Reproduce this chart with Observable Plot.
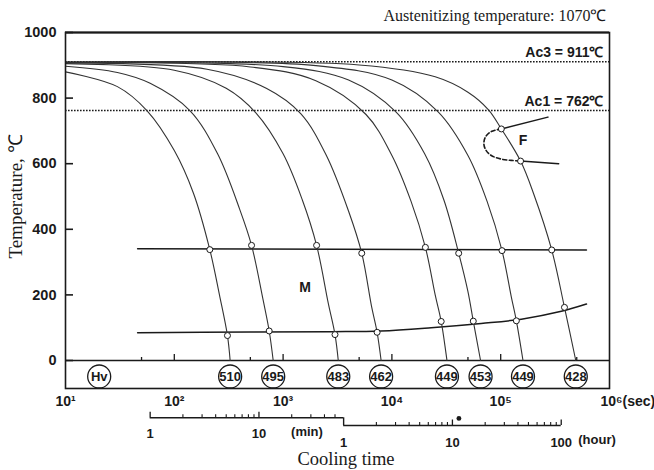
<!DOCTYPE html>
<html><head><meta charset="utf-8">
<script src="https://cdn.jsdelivr.net/npm/d3@7"></script>
<script src="https://cdn.jsdelivr.net/npm/@observablehq/plot@0.6"></script>
<style>body{margin:0;background:#fff} svg{display:block}</style>
</head><body><div id="chart"></div>
<script>
// ---------- data (time in seconds, temperature in °C) ----------
const titleText = "Austenitizing temperature: 1070℃";
const yLabel = "Temperature, ℃";
const xLabel = "Cooling time";
const yTicks = [0, 200, 400, 600, 800, 1000];
const xMajorTicks = [100, 1000, 10000, 100000];
const xMinorTicks = [50, 500, 5000, 50000, 500000];
const xTickValues = [10, 100, 1000, 10000, 100000];
const xTickLabels = ["10¹", "10²", "10³", "10⁴", "10⁵"];
const xLastTick = 1000000;
const xLastLabel = "10⁶(sec)";

const acTemps = [911, 762];
const acLabels = ["Ac3 = 911℃", "Ac1 = 762℃"];

// cooling curves
const c1Time = [10, 30, 56, 100, 150, 212, 260, 308, 326];
const c1Temp = [880, 835, 762, 640, 510, 338, 200, 76, 0];
const c2Time = [10, 30, 60, 139, 250, 400, 513, 650, 745, 811];
const c2Temp = [897, 878, 845, 762, 630, 460, 351, 190, 90, 0];
const c3Time = [10, 100, 300, 562, 1000, 1500, 2032, 2600, 3000, 3214];
const c3Temp = [905, 885, 830, 755, 630, 490, 351, 175, 79, 0];
const c4Time = [10, 200, 700, 1459, 2500, 4000, 5284, 6500, 7311, 7960];
const c4Temp = [907, 888, 830, 752, 625, 455, 327, 165, 86, 0];
const c5Time = [10, 500, 2000, 5780, 10000, 15000, 20320, 25000, 28380, 32060];
const c5Temp = [908, 895, 853, 750, 625, 485, 345, 200, 119, 0];
const c6Time = [10, 1000, 4000, 10940, 20000, 30000, 41110, 50000, 55960, 65300];
const c6Temp = [909, 896, 855, 757, 630, 490, 327, 210, 120, 0];
const c7Time = [10, 2000, 10000, 26600, 50000, 75000, 102800, 125000, 139300, 160300];
const c7Temp = [909, 899, 855, 758, 625, 485, 335, 195, 121, 0];
const c8Time = [10, 5000, 25000, 50000, 76900, 101400, 152300, 200000, 294400, 385600, 489800];
const c8Temp = [910, 901, 865, 818, 765, 706, 608, 510, 337, 162, 0];

// hardness (Hv) at the end of each curve
const hvLabel = "Hv";
const hvLabelTime = 20.4;
const hvTime = [326, 811, 3214, 7960, 32060, 65300, 160300, 489800];
const hvValues = ["510", "495", "483", "462", "449", "453", "449", "428"];

// Ms (start of martensite) line and points
const msLineTime = [46, 614000];
const msLineTemp = [341, 337];
const msDotTime = [212, 513, 2032, 5284, 20320, 41110, 102800, 294400];
const msDotTemp = [338, 351, 351, 327, 345, 327, 335, 337];

// Mf (finish) line and points
const mfLineTime = [46, 506, 2754, 7940, 22960, 66200, 155000, 361000, 614000];
const mfLineTemp = [84.5, 87, 88, 90, 100, 113, 126, 150, 172];
const mfDotTime = [308, 745, 3000, 7311, 28380, 55960, 139300, 385600];
const mfDotTemp = [76, 90, 79, 86, 119, 120, 121, 162];

// ferrite region
const fStartTime = [101400, 271600];
const fStartTemp = [706, 742];
const fEndTime = [152300, 341000];
const fEndTemp = [608, 600];
const fNoseTime = [101400, 81900, 72100, 70100, 73600, 81900, 101400, 125300, 152300];
const fNoseTemp = [706, 698, 680, 659, 640, 625, 614, 610, 608];
const fDotTime = [101400, 152300];
const fDotTemp = [706, 608];

const regionLabels = ["M", "F"];
const regionTime = [1596, 160000];
const regionTemp = [222, 670];

// secondary time scale
const minMajor = [1, 10];
const minMinor = [2, 3, 4, 5, 6, 7, 8, 9, 20, 30, 40, 50];
const hourMajor = [10, 100];
const hourMinor = [2, 3, 4, 5, 6, 7, 8, 9, 20, 30, 40, 50, 60, 70, 80, 90];
const minLabels = ["1", "10"];
const hourLabels = ["1", "10", "100"];
const hourLabelValues = [1, 10, 100];
const blobTime = [41300];

// ---------- layout constants (temperature units of the y scale) ----------
const HV_ROW = -48.8, MIN_LINE = -174.7, HOUR_LINE = -198.2;
const MIN_LABEL = -222.6, HOUR_LABEL = -251.5, XLABEL_ROW = -301;

const curves = [[c1Time,c1Temp],[c2Time,c2Temp],[c3Time,c3Temp],[c4Time,c4Temp],
                [c5Time,c5Temp],[c6Time,c6Temp],[c7Time,c7Temp],[c8Time,c8Temp]];
const curveRows = curves.flatMap(([ts, Ts], id) => ts.map((t, i) => ({id, t, T: Ts[i]})));
const zip = (a, b) => a.map((t, i) => ({t, T: b[i]}));

const sans = "Liberation Sans, Arial, sans-serif";
const narrow = "Liberation Sans Narrow, Liberation Sans, Arial, sans-serif";
const serif = "Liberation Serif, Times New Roman, serif";
const ink = "#1a1a1a";

const chart = Plot.plot({
  width: 654, height: 470,
  marginLeft: 65, marginRight: 45, marginTop: 32, marginBottom: 82,
  x: {type: "log", domain: [10, 1e6], axis: null},
  y: {domain: [-85.4, 1000], axis: null},
  style: {background: "white", overflow: "visible"},
  marks: [
    // title & axis titles
    Plot.text([titleText], {x: 1e6, y: 1000, text: d => d, textAnchor: "end", dx: -3, dy: -17, fontFamily: serif, fontSize: 16, fill: ink}),
    Plot.text([yLabel], {x: 10, y: 500, text: d => d, rotate: -90, dx: -50, fontFamily: serif, fontSize: 19, fill: ink}),
    Plot.text([xLabel], {x: 3784, y: XLABEL_ROW, text: d => d, fontFamily: serif, fontSize: 18.5, fill: ink}),

    // Ac lines
    Plot.ruleY(acTemps, {y: d => d, stroke: ink, strokeWidth: 1.4, strokeDasharray: "1.6,1.4"}),
    Plot.text(acTemps, {x: 1e6, y: d => d, text: (d, i) => acLabels[i], textAnchor: "end", dx: -6, dy: -9, fontFamily: sans, fontWeight: "bold", fontSize: 14, fill: ink}),

    // y ticks and labels
    Plot.ruleY(yTicks, {y: d => d, x1: 10, x2: 10, insetRight: -8, stroke: ink, strokeWidth: 1.6}),
    Plot.text(yTicks, {x: 10, y: d => d, text: d => String(d), textAnchor: "end", dx: -9, fontFamily: sans, fontWeight: "bold", fontSize: 14.5, fill: ink}),

    // zero line and x ticks on it
    Plot.ruleY([0], {stroke: ink, strokeWidth: 1.5}),
    Plot.ruleX(xMajorTicks, {x: d => d, y1: 0, y2: 0, insetTop: -6, stroke: ink, strokeWidth: 1.3}),
    Plot.ruleX(xMinorTicks, {x: d => d, y1: 0, y2: 0, insetTop: -3, stroke: ink, strokeWidth: 1.3}),
    Plot.text(xTickValues, {x: d => d, y: -85.4, text: (d, i) => xTickLabels[i], dy: 13, fontFamily: sans, fontWeight: "bold", fontSize: 14, fill: ink}),
    Plot.text([xLastTick], {x: d => d, y: -85.4, text: () => xLastLabel, textAnchor: "start", dx: -9, dy: 13, fontFamily: sans, fontWeight: "bold", fontSize: 14, fill: ink}),

    // Ms and Mf lines
    Plot.line(zip(msLineTime, msLineTemp), {x: "t", y: "T", stroke: ink, strokeWidth: 1.5}),
    Plot.line(zip(mfLineTime, mfLineTemp), {x: "t", y: "T", stroke: ink, strokeWidth: 1.5, curve: "catmull-rom"}),

    // cooling curves
    Plot.line(curveRows, {x: "t", y: "T", z: "id", stroke: "#333", strokeWidth: 1.1, curve: "catmull-rom"}),

    // ferrite region
    Plot.line(zip(fStartTime, fStartTemp), {x: "t", y: "T", stroke: ink, strokeWidth: 1.5}),
    Plot.line(zip(fEndTime, fEndTemp), {x: "t", y: "T", stroke: ink, strokeWidth: 1.5}),
    Plot.line(zip(fNoseTime, fNoseTemp), {x: "t", y: "T", stroke: ink, strokeWidth: 1.6, strokeDasharray: "4,2.5", curve: "catmull-rom"}),

    // transformation points
    Plot.dot(zip(msDotTime, msDotTemp), {x: "t", y: "T", r: 3, fill: "white", stroke: ink, strokeWidth: 1}),
    Plot.dot(zip(mfDotTime, mfDotTemp), {x: "t", y: "T", r: 3, fill: "white", stroke: ink, strokeWidth: 1}),
    Plot.dot(zip(fDotTime, fDotTemp), {x: "t", y: "T", r: 3, fill: "white", stroke: ink, strokeWidth: 1}),

    // region labels
    Plot.text(regionLabels, {x: (d, i) => regionTime[i], y: (d, i) => regionTemp[i], text: d => d, fontFamily: sans, fontWeight: "bold", fontSize: 14, fill: ink}),

    // hardness circles
    Plot.dot([hvLabelTime, ...hvTime], {x: d => d, y: HV_ROW, r: 11.5, fill: "white", stroke: ink, strokeWidth: 1.3}),
    Plot.text([hvLabel, ...hvValues], {x: (d, i) => [hvLabelTime, ...hvTime][i], y: HV_ROW, text: d => d, fontFamily: narrow, fontWeight: "bold", fontSize: 13, fill: ink}),

    // frame
    Plot.frame({stroke: ink, strokeWidth: 1.6}),
    Plot.ruleY([1000], {stroke: ink, strokeWidth: 2.2}),

    // secondary time scale: minutes
    Plot.ruleY([MIN_LINE], {y: d => d, x1: 60, x2: 3600, stroke: ink, strokeWidth: 1.4}),
    Plot.ruleX(minMajor, {x: d => d * 60, y1: MIN_LINE, y2: MIN_LINE, insetTop: -5.5, stroke: ink, strokeWidth: 1.3}),
    Plot.ruleX(minMinor, {x: d => d * 60, y1: MIN_LINE, y2: MIN_LINE, insetTop: -3, stroke: ink, strokeWidth: 1.1}),
    Plot.ruleX([3600], {x: d => d, y1: MIN_LINE, y2: HOUR_LINE, stroke: ink, strokeWidth: 1.4}),
    Plot.text(minMajor, {x: d => d * 60, y: MIN_LABEL, text: (d, i) => minLabels[i], fontFamily: sans, fontWeight: "bold", fontSize: 13, fill: ink}),
    Plot.text(["(min)"], {x: 600, y: MIN_LABEL, text: d => d, dx: 48, dy: -2, fontFamily: sans, fontWeight: "bold", fontSize: 13, fill: ink}),
    // hours
    Plot.ruleY([HOUR_LINE], {y: d => d, x1: 3600, x2: 360000, stroke: ink, strokeWidth: 1.4}),
    Plot.ruleX(hourMajor, {x: d => d * 3600, y1: HOUR_LINE, y2: HOUR_LINE, insetTop: -5.5, stroke: ink, strokeWidth: 1.3}),
    Plot.ruleX(hourMinor, {x: d => d * 3600, y1: HOUR_LINE, y2: HOUR_LINE, insetTop: -3, stroke: ink, strokeWidth: 1.1}),
    Plot.text(hourLabelValues, {x: d => d * 3600, y: HOUR_LABEL, text: (d, i) => hourLabels[i], fontFamily: sans, fontWeight: "bold", fontSize: 13, fill: ink}),
    Plot.text(["(hour)"], {x: 360000, y: HOUR_LABEL, text: d => d, textAnchor: "start", dx: 17, dy: -3, fontFamily: sans, fontWeight: "bold", fontSize: 13, fill: ink}),
    Plot.dot(blobTime, {x: d => d, y: MIN_LINE - 2, r: 2.4, fill: ink})
  ]
});
document.getElementById("chart").appendChild(chart);
</script>
</body></html>
